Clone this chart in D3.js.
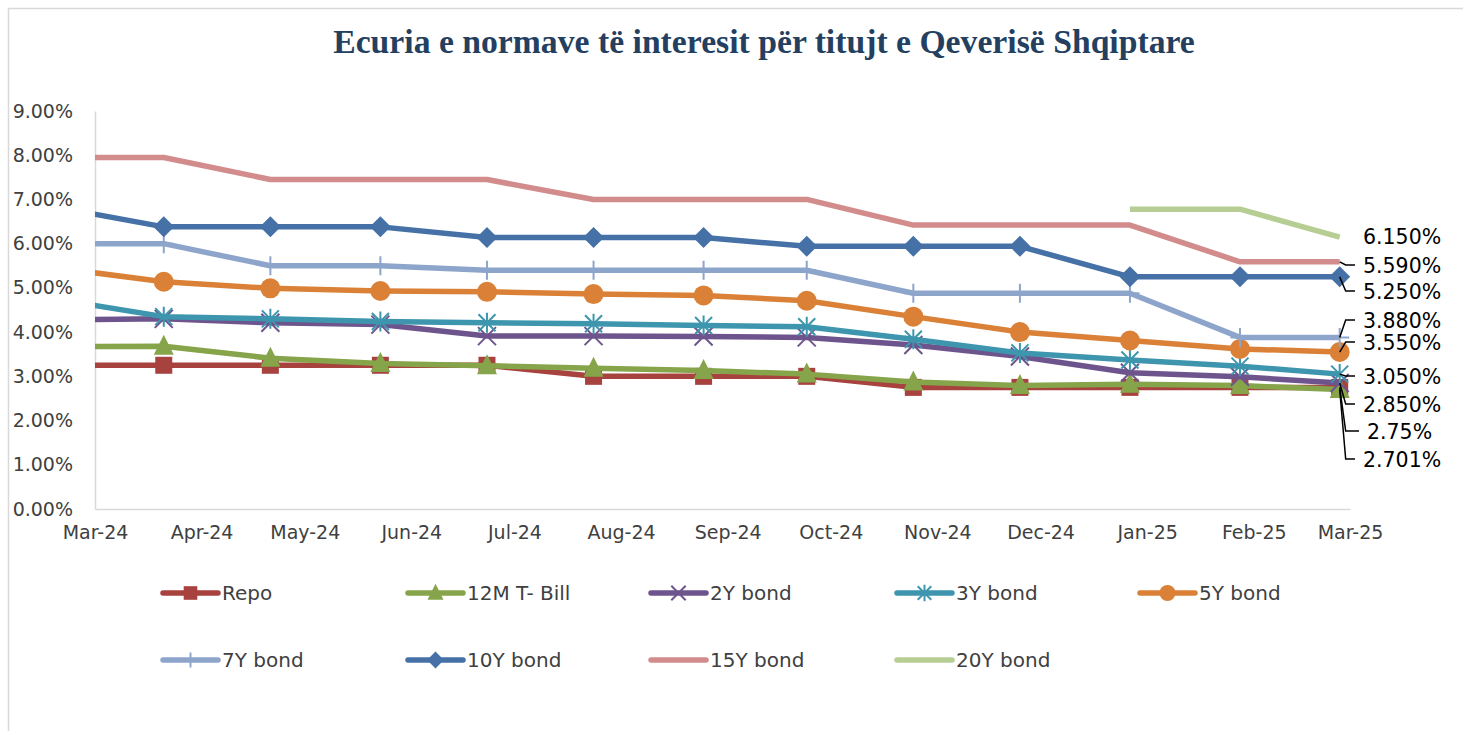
<!DOCTYPE html>
<html>
<head>
<meta charset="utf-8">
<script src="https://cdn.jsdelivr.net/npm/d3@7"></script>
<style>
  body { margin: 0; background: #fff; }
  svg { display: block; }
</style>
</head>
<body>
<script>
// observation dates (first one sits left of the axis start and is clipped)
var dates = ["2024-02-22", "2024-03-21", "2024-04-21", "2024-05-23", "2024-06-23", "2024-07-24",
  "2024-08-25", "2024-09-24", "2024-10-25", "2024-11-25", "2024-12-27", "2025-01-28", "2025-02-26"];

var repo   = [3.25, 3.25, 3.25, 3.25, 3.25, 3.00, 3.00, 3.00, 2.75, 2.75, 2.75, 2.75, 2.75];
var tbill  = [3.67, 3.68, 3.41, 3.29, 3.24, 3.18, 3.13, 3.05, 2.87, 2.79, 2.82, 2.79, 2.701];
var bond2  = [4.28, 4.30, 4.21, 4.17, 3.91, 3.91, 3.90, 3.88, 3.71, 3.45, 3.08, 2.99, 2.85];
var bond3  = [4.70, 4.35, 4.30, 4.24, 4.21, 4.19, 4.15, 4.12, 3.84, 3.53, 3.37, 3.23, 3.05];
var bond5  = [5.42, 5.14, 4.99, 4.93, 4.91, 4.86, 4.83, 4.71, 4.35, 4.00, 3.81, 3.62, 3.55];
var bond7  = [6.00, 6.00, 5.50, 5.50, 5.40, 5.40, 5.40, 5.40, 4.88, 4.88, 4.88, 3.88, 3.88];
var bond10 = [6.78, 6.38, 6.38, 6.38, 6.14, 6.14, 6.14, 5.94, 5.94, 5.94, 5.25, 5.25, 5.25];
var bond15 = [7.95, 7.95, 7.45, 7.45, 7.45, 7.00, 7.00, 7.00, 6.42, 6.42, 6.42, 5.59, 5.59];
var bond20 = [null, null, null, null, null, null, null, null, null, null, 6.78, 6.78, 6.15];

var names = ["Repo", "12M T- Bill", "2Y bond", "3Y bond", "5Y bond", "7Y bond", "10Y bond", "15Y bond", "20Y bond"];
var lastLabels = ["2.75%", "2.701%", "2.850%", "3.050%", "3.550%", "3.880%", "5.250%", "5.590%", "6.150%"];
var yTicks = [0, 1, 2, 3, 4, 5, 6, 7, 8, 9];

var W = 1463, H = 731;
var FONT = "'DejaVu Sans', sans-serif";

var series = [
  {name: names[0], vals: repo,   color: "#a8423f", marker: "square"},
  {name: names[1], vals: tbill,  color: "#86a44a", marker: "triangle"},
  {name: names[2], vals: bond2,  color: "#6e548d", marker: "x"},
  {name: names[3], vals: bond3,  color: "#3d96ae", marker: "star"},
  {name: names[4], vals: bond5,  color: "#da8137", marker: "circle"},
  {name: names[5], vals: bond7,  color: "#8ea5cb", marker: "plus"},
  {name: names[6], vals: bond10, color: "#4571a6", marker: "diamond"},
  {name: names[7], vals: bond15, color: "#d28c8b", marker: null},
  {name: names[8], vals: bond20, color: "#b6ce93", marker: null}
];
series.forEach(function(s, i) { s.label = lastLabels[i]; });

var parse = d3.timeParse("%Y-%m-%d");
var dd = dates.map(parse);

var svg = d3.select("body").append("svg").attr("width", W).attr("height", H);

// chart frame (only top/left edges are visible)
svg.append("rect").attr("x", 8.5).attr("y", 8.5).attr("width", W + 20).attr("height", H + 20)
  .attr("fill", "none").attr("stroke", "#d9d9d9").attr("stroke-width", 1.5);

svg.append("text").attr("x", 764).attr("y", 53).attr("text-anchor", "middle")
  .style("font-family", "'Liberation Serif', serif").style("font-weight", "bold")
  .style("font-size", "33.7px").attr("fill", "#243f60")
  .text("Ecuria e normave të interesit për titujt e Qeverisë Shqiptare");

var x = d3.scaleTime().domain([parse("2024-03-01"), parse("2025-03-01")]).range([95, 1350]);
var y = d3.scaleLinear().domain([0, 9]).range([509, 111]);

// axes
var yAxis = svg.append("g").attr("transform", "translate(95,0)")
  .call(d3.axisLeft(y).tickValues(yTicks).tickSize(0).tickPadding(22)
    .tickFormat(function(d) { return d3.format(".2f")(d) + "%"; }));
var xAxis = svg.append("g").attr("transform", "translate(0,509)")
  .call(d3.axisBottom(x).ticks(d3.timeMonth.every(1)).tickSize(0).tickPadding(17)
    .tickFormat(d3.timeFormat("%b-%y")));
[xAxis, yAxis].forEach(function(g) {
  g.select(".domain").attr("stroke", "#d9d9d9").attr("stroke-width", 1.5);
  g.selectAll("text").style("font-family", FONT).style("font-size", "19px").attr("fill", "#404040");
});

svg.append("clipPath").attr("id", "plot").append("rect")
  .attr("x", 95).attr("y", 0).attr("width", 1400).attr("height", 560);

var plot = svg.append("g").attr("clip-path", "url(#plot)");

function drawMarker(g, type, color, cx, cy, k) {
  k = k || 1;
  if (type === "square") {
    g.append("rect").attr("x", cx - 8.5 * k).attr("y", cy - 8.5 * k)
      .attr("width", 17 * k).attr("height", 17 * k).attr("fill", color);
  } else if (type === "triangle") {
    var s = 10 * k;
    g.append("path").attr("d", "M" + cx + "," + (cy - s * 1.15) + "L" + (cx + s) + "," + (cy + s * 0.85) +
      "L" + (cx - s) + "," + (cy + s * 0.85) + "Z").attr("fill", color);
  } else if (type === "x") {
    var r = 9 * k;
    g.append("path").attr("d", "M" + (cx - r) + "," + (cy - r) + "L" + (cx + r) + "," + (cy + r) +
      "M" + (cx - r) + "," + (cy + r) + "L" + (cx + r) + "," + (cy - r))
      .attr("stroke", color).attr("stroke-width", 2);
  } else if (type === "star") {
    var r2 = 8.5 * k;
    g.append("path").attr("d", "M" + (cx - r2) + "," + (cy - r2) + "L" + (cx + r2) + "," + (cy + r2) +
      "M" + (cx - r2) + "," + (cy + r2) + "L" + (cx + r2) + "," + (cy - r2) +
      "M" + cx + "," + (cy - r2 - 1.5) + "L" + cx + "," + (cy + r2 + 1.5))
      .attr("stroke", color).attr("stroke-width", 2);
  } else if (type === "circle") {
    g.append("circle").attr("cx", cx).attr("cy", cy).attr("r", 10 * k).attr("fill", color);
  } else if (type === "plus") {
    var r3 = 9.5 * k;
    g.append("path").attr("d", "M" + cx + "," + (cy - r3) + "L" + cx + "," + (cy + r3) +
      "M" + (cx - r3) + "," + cy + "L" + (cx + r3) + "," + cy)
      .attr("stroke", color).attr("stroke-width", 2);
  } else if (type === "diamond") {
    var r4 = 10.5 * k;
    g.append("path").attr("d", "M" + cx + "," + (cy - r4) + "L" + (cx + r4) + "," + cy +
      "L" + cx + "," + (cy + r4) + "L" + (cx - r4) + "," + cy + "Z").attr("fill", color);
  }
}

var line = d3.line()
  .defined(function(d) { return d.v != null; })
  .x(function(d) { return x(d.date); })
  .y(function(d) { return y(d.v); });

series.forEach(function(s) {
  var pts = s.vals.map(function(v, i) { return {date: dd[i], v: v}; });
  var g = plot.append("g");
  g.append("path").datum(pts).attr("d", line).attr("fill", "none")
    .attr("stroke", s.color).attr("stroke-width", 5.5).attr("stroke-linejoin", "round");
  if (s.marker) {
    pts.forEach(function(p) {
      if (p.v != null) drawMarker(g, s.marker, s.color, x(p.date), y(p.v));
    });
  }
});

// end-of-line labels with leader lines
var labelY = {"6.150%": 237, "5.590%": 266, "5.250%": 292, "3.880%": 321, "3.550%": 343,
  "3.050%": 377, "2.850%": 405, "2.75%": 432, "2.701%": 460};
var last = dd.length - 1;
series.forEach(function(s) {
  var px = x(dd[last]), py = y(s.vals[last]);
  var ty = labelY[s.label];
  var tx = s.label === "2.75%" ? 1367 : 1363;
  if (s.label !== "6.150%") {
    svg.append("path").attr("d", "M" + px + "," + py + "L" + (px + 6) + "," + (ty - 1) + "L" + (tx - 8) + "," + (ty - 1))
      .attr("fill", "none").attr("stroke", "#000").attr("stroke-width", 1.5);
  }
  svg.append("text").attr("x", tx).attr("y", ty).attr("dy", "0.36em")
    .style("font-family", FONT).style("font-size", "20.5px").attr("fill", "#000").text(s.label);
});

// legend
var legCols = [163, 408, 651, 897, 1140];
var legRows = [593, 660];
series.forEach(function(s, i) {
  var lx = legCols[i % 5], ly = legRows[Math.floor(i / 5)];
  var g = svg.append("g");
  g.append("line").attr("x1", lx).attr("x2", lx + 55).attr("y1", ly).attr("y2", ly)
    .attr("stroke", s.color).attr("stroke-width", 5.5).attr("stroke-linecap", "round");
  if (s.marker) drawMarker(g, s.marker, s.color, lx + 27.5, ly, 0.8);
  g.append("text").attr("x", lx + 59).attr("y", ly).attr("dy", "0.36em")
    .style("font-family", FONT).style("font-size", "20px").attr("fill", "#404040").text(s.name);
});
</script>
</body>
</html>
